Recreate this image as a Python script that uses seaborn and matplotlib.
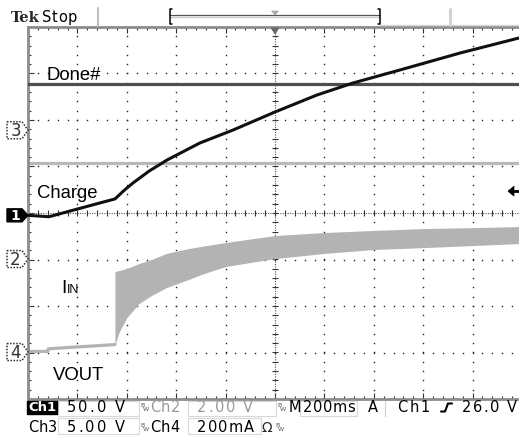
import numpy as np
import pandas as pd
import matplotlib
matplotlib.use("Agg")
import matplotlib.pyplot as plt
from matplotlib.patches import Polygon, Rectangle
from matplotlib.ticker import MultipleLocator
import seaborn as sns

# ---- channel setup: scale per division and ground-marker offset (divisions)
ch_labels = ["1", "2", "3", "4"]
ch_scale = [50.0, 2.0, 5.0, 200.0]
ch_offset_div = [-0.05, -0.99, 1.78, -2.99]
time_per_div_ms = 200
trigger_level_v = 26.0
trigger_pos_ms = 1000

# ---- Ch1: charge voltage (V)
charge_t_ms = [0, 85, 291, 352, 390, 425, 490, 563, 696, 830, 1000, 1170, 1316, 1506, 1749, 1988, 2000]
charge_v = [0.0, -1.5, 13.3, 17.6, 27.0, 34.8, 47.5, 59.5, 77.8, 91.7, 111.1, 129.4, 142.3, 156.3, 174.5, 190.7, 191.4]

# ---- Ch3: Done# (V)
done_t_ms = [0, 2000]
done_v = [4.95, 4.95]

# ---- Ch2: output voltage (V)
vout_t_ms = [0, 2000]
vout_v = [4.13, 4.13]

# ---- Ch4: input current (mA), before switching and the ripple envelope after
iin_pre_t_ms = [0, 80, 82, 352]
iin_pre_ma = [2, 3, 14, 32]
iin_t_ms = [352, 370, 400, 450, 500, 560, 650, 700, 800, 1000, 1200, 1400, 1600, 1800, 2000]
iin_hi_ma = [346, 351, 359, 381, 398, 424, 445, 454, 471, 501, 514, 523, 531, 535, 540]
iin_lo_ma = [30, 88, 148, 209, 243, 277, 312, 333, 368, 402, 424, 441, 449, 458, 467]

W, H = 519, 436
sns.set_style("white")
plt.rcParams["font.family"] = ["DejaVu Sans"]

fig = plt.figure(figsize=(W / 100, H / 100), dpi=100)
fig.patch.set_facecolor("white")

# graticule: 10 x 8 divisions
gl, gr, gt, gb = 28, 522, 27, 399
ax = fig.add_axes([gl / W, 1 - gb / H, (gr - gl) / W, (gb - gt) / H])
ax.set_facecolor("white")
ax.set_xlim(0, 10 * time_per_div_ms)
ax.set_ylim(-4, 4)


def to_div(vals, ch):
    return np.asarray(vals, dtype=float) / ch_scale[ch] + ch_offset_div[ch]


# ruler edges
for side in ["left", "top", "bottom"]:
    ax.spines[side].set_color("#8c8c8c")
    ax.spines[side].set_linewidth(2.0)
ax.spines["right"].set_visible(False)
ax.xaxis.set_major_locator(MultipleLocator(time_per_div_ms))
ax.xaxis.set_minor_locator(MultipleLocator(time_per_div_ms / 5))
ax.yaxis.set_major_locator(MultipleLocator(1))
ax.yaxis.set_minor_locator(MultipleLocator(0.2))
ax.tick_params(which="both", direction="in", top=True, bottom=True, left=True, right=False,
               labelbottom=False, labelleft=False, color="#333333", width=0.8)
ax.tick_params(which="major", length=4)
ax.tick_params(which="minor", length=2.5)

# dotted grid
minor_x = np.arange(0, 2001, time_per_div_ms / 5)
minor_y = np.arange(-4, 4.001, 0.2)
for k in range(1, 10):
    if k == 5:
        continue
    ax.plot(np.full_like(minor_y, k * time_per_div_ms), minor_y, ls="none", marker="s",
            ms=1.0, mew=0, color="#222222", zorder=1)
for j in range(-3, 4):
    if j == 0:
        continue
    ax.plot(minor_x, np.full_like(minor_x, j), ls="none", marker="s", ms=1.0, mew=0,
            color="#222222", zorder=1)
# centre cross with tick marks
ax.axhline(0, color="#555555", lw=0.8, ls=(0, (1, 1.2)), zorder=1)
ax.axvline(1000, color="#555555", lw=0.8, ls=(0, (1, 1.2)), zorder=1)
ax.plot(minor_x, np.zeros_like(minor_x), ls="none", marker="|", ms=4, mew=0.8,
        color="#333333", zorder=1)
ax.plot(np.full_like(minor_y, 1000), minor_y, ls="none", marker="_", ms=4, mew=0.8,
        color="#333333", zorder=1)

# traces
vout_df = pd.DataFrame({"t": vout_t_ms, "y": to_div(vout_v, 1)})
sns.lineplot(data=vout_df, x="t", y="y", ax=ax, color="#b8b8b8", lw=2.3,
             estimator=None, sort=False, zorder=2)

iin_pre_df = pd.DataFrame({"t": iin_pre_t_ms, "y": to_div(iin_pre_ma, 3)})
sns.lineplot(data=iin_pre_df, x="t", y="y", ax=ax, color="#b3b3b3", lw=2.3,
             estimator=None, sort=False, zorder=2)
ax.fill_between(iin_t_ms, to_div(iin_lo_ma, 3), to_div(iin_hi_ma, 3),
                color="#b3b3b3", lw=0, zorder=2)

done_df = pd.DataFrame({"t": done_t_ms, "y": to_div(done_v, 2)})
sns.lineplot(data=done_df, x="t", y="y", ax=ax, color="#4f4f4f", lw=2.3,
             estimator=None, sort=False, zorder=3)

charge_df = pd.DataFrame({"t": charge_t_ms, "y": to_div(charge_v, 0)})
sns.lineplot(data=charge_df, x="t", y="y", ax=ax, color="#111111", lw=2.2,
             estimator=None, sort=False, zorder=4)
ax.set_xlabel("")
ax.set_ylabel("")

# ---- overlay in pixel coordinates for the scope annotations
ov = fig.add_axes([0, 0, 1, 1], zorder=5)
ov.set_xlim(0, W)
ov.set_ylim(H, 0)
ov.axis("off")
ov.patch.set_alpha(0)
renderer = fig.canvas.get_renderer()


def to_px(x, y):
    px, py = ax.transData.transform((x, y))
    return px, H - py


def spread_text(x0, x1, y, s, size=10.5, color="black", weight="normal"):
    """Draw s with its glyphs spread evenly so the string spans x0..x1."""
    kw = dict(fontsize=size, color=color, fontweight=weight, va="baseline", ha="left")
    widths = []
    for ch in s:
        if ch == " ":
            widths.append(0.318 * size * 100 / 72)
        else:
            t = ov.text(0, 0, ch, **kw)
            widths.append(t.get_window_extent(renderer=renderer).width)
            t.remove()
    gap = max((x1 - x0 - sum(widths)) / max(len(s) - 1, 1), 0.0)
    x = x0
    for ch, w in zip(s, widths):
        if ch != " ":
            ov.text(x, y, ch, **kw)
        x += w + gap


# channel ground markers
for i, lab in enumerate(ch_labels):
    _, yp = to_px(0, ch_offset_div[i])
    if i == 0:
        pts = [(7, yp - 6.5), (22, yp - 6.5), (28, yp), (22, yp + 6.5), (7, yp + 6.5)]
        ov.add_patch(Polygon(pts, closed=True, fc="black", ec="black", lw=1))
        ov.text(15, yp + 0.5, lab, color="white", fontsize=10, fontweight="bold",
                ha="center", va="center")
    else:
        pts = [(7, yp - 8.5), (22, yp - 8.5), (28, yp), (22, yp + 8.5), (7, yp + 8.5)]
        ov.add_patch(Polygon(pts, closed=True, fc="white", ec="#333333", lw=1.1, ls=(0, (1, 1))))
        ov.text(15.5, yp + 0.5, lab, color="#333333", fontsize=12, ha="center", va="center")

# trigger level arrow on the right
_, ytrig = to_px(0, trigger_level_v / ch_scale[0] + ch_offset_div[0])
ov.add_patch(Polygon([(508, ytrig), (514, ytrig - 5), (514, ytrig + 5)], closed=True,
                     fc="black", ec="black", lw=0.5))
ov.plot([513, 519], [ytrig, ytrig], color="black", lw=2)

# trigger position marker at top
xtrig, _ = to_px(trigger_pos_ms, 0)
ov.add_patch(Polygon([(xtrig - 4, 28), (xtrig + 4, 28), (xtrig, 34)], closed=True,
                     fc="#666666", ec="#666666", lw=0.5))

# trace labels
lab_font = dict(family=["Liberation Sans", "DejaVu Sans"], color="black", va="baseline", ha="left")
ov.text(47, 80, "Done#", fontsize=13.3, **lab_font)
ov.text(37, 198, "Charge", fontsize=13.3, **lab_font)
ov.text(61, 293, "I", fontsize=14, **lab_font)
ov.text(66.5, 293, "IN", fontsize=9, **lab_font)
ov.text(53, 380, "VOUT", fontsize=13.3, **lab_font)

# top status bar
ov.text(11, 22, "Tek", fontsize=10.5, fontweight="bold", family=["DejaVu Serif"],
        va="baseline", ha="left")
spread_text(42, 77, 22, "Stop", size=10.5)
ov.plot([98, 98], [8, 26], color="#bdbdbd", lw=1.5)
ov.plot([450, 450], [9, 25], color="#cfcfcf", lw=2)
ov.plot([170, 380], [15, 15], color="#555555", lw=0.9)
ov.plot([170, 380], [17, 17], color="#c8c8c8", lw=0.9)
ov.plot([172, 170, 170, 172], [9, 9, 24, 24], color="black", lw=1.1)
ov.plot([378, 380, 380, 378], [9, 9, 24, 24], color="black", lw=1.1)
ov.plot([380, 519], [25, 25], color="#d5d5d5", lw=1)
ov.add_patch(Polygon([(xtrig - 3.5, 11), (xtrig + 3.5, 11), (xtrig, 15)], closed=True,
                     fc="#aaaaaa", ec="#aaaaaa", lw=0.5))

# bottom readout
gray = "#9a9a9a"
for (x0, y0, w, h) in [(58, 401, 81, 15), (188, 401, 88, 15), (300, 401, 57, 15),
                       (58, 418, 81, 16), (188, 418, 73, 16)]:
    ov.add_patch(Rectangle((x0, y0), w, h, fill=False, ec="#d8d8d8", lw=0.8))
ov.plot([385, 385], [401, 416], color="#d0d0d0", lw=0.8)
ov.add_patch(Rectangle((27, 401), 30, 13, fc="black", ec="black"))
row1, row2 = 411.5, 431.5
ov.text(42, row1 - 0.5, "Ch1", color="white", fontsize=9.5, fontweight="bold",
        va="baseline", ha="center")


def bw(x, y):
    ov.text(x, y - 5, "B", fontsize=4.5, color="#555555", va="baseline", ha="left")
    ov.text(x + 3, y - 1, "W", fontsize=4.5, color="#555555", va="baseline", ha="left")


spread_text(67, 125, row1, f"{ch_scale[0]:.1f} V")
bw(140, row1)
spread_text(150, 180, row1, "Ch2", color=gray)
spread_text(197, 253, row1, f"{ch_scale[1]:.2f} V", color=gray)
bw(277, row1)
spread_text(289, 300, row1, "M")
spread_text(303, 355, row1, f"{time_per_div_ms}ms")
spread_text(368, 378, row1, "A")
spread_text(397, 430, row1, "Ch1")
ov.plot([441, 445, 448, 452], [row1, row1, row1 - 8, row1 - 8], color="black", lw=1.5)
spread_text(462, 517, row1, f"{trigger_level_v:.1f} V")

spread_text(28, 56, row2, "Ch3")
spread_text(67, 125, row2, f"{ch_scale[2]:.2f} V")
bw(140, row2)
spread_text(150, 180, row2, "Ch4")
spread_text(197, 254, row2, f"{int(ch_scale[3])}mA")
ov.text(262, row2, "\u03a9", fontsize=10, va="baseline", ha="left")
bw(275, row2)

fig.savefig("out.png", dpi=100, facecolor="white")
